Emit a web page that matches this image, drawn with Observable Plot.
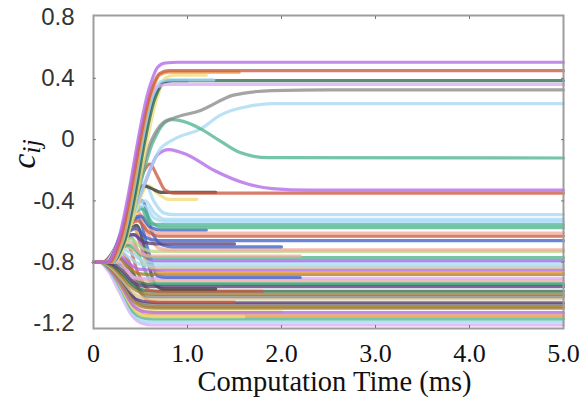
<!DOCTYPE html>
<html>
<head>
<meta charset="utf-8">
<script src="https://cdn.jsdelivr.net/npm/d3@7"></script>
<script src="https://cdn.jsdelivr.net/npm/@observablehq/plot@0.6"></script>
<style>
  html, body { margin: 0; padding: 0; background: #fff; }
  #chart { width: 583px; height: 401px; }
</style>
</head>
<body>
<div id="chart"></div>
<script>
// ---- data ----
const xTicks = [0, 1, 2, 3, 4, 5];
const xTickLabels = ["0", "1.0", "2.0", "3.0", "4.0", "5.0"];
const yTicks = [-1.2, -0.8, -0.4, 0, 0.4, 0.8];
const yTickLabels = ["-1.2", "-0.8", "-0.4", "0", "0.4", "0.8"];
const xTitle = "Computation Time (ms)";

const palette = [
  "#b469e6", // 0 purple
  "#dcaaf5", // 1 lavender
  "#eb9a3c", // 2 orange
  "#cc5a40", // 3 red
  "#f0dc78", // 4 yellow
  "#3f63c6", // 5 blue
  "#a6d8f2", // 6 light blue
  "#4fb58f", // 7 teal
  "#8a8a8a", // 8 gray
  "#333333", // 9 black
  "#a07c2e", // 10 olive brown
  "#f2ab9a", // 11 salmon
  "#b5d98a", // 12 light green
  "#5a3f7a", // 13 dark purple
  "#d8c890", // 14 khaki
  "#2f6e4e"  // 15 dark green
];

// lower group (settle between -0.48 and -1.21)
const lowerPaths = [
  [[0,-0.8],[0.06,-0.8],[0.16,-0.86],[0.28,-1.0],[0.4,-1.14],[0.52,-1.2],[0.62,-1.21],[5,-1.21]],
  [[0,-0.8],[0.07,-0.8],[0.17,-0.855],[0.29,-0.99],[0.41,-1.13],[0.53,-1.185],[0.63,-1.19],[5,-1.19]],
  [[0,-0.8],[0.07,-0.8],[0.17,-0.85],[0.3,-0.98],[0.42,-1.12],[0.54,-1.165],[0.64,-1.17],[5,-1.17]],
  [[0,-0.8],[0.08,-0.8],[0.18,-0.85],[0.3,-0.97],[0.42,-1.1],[0.54,-1.145],[0.64,-1.15],[5,-1.15]],
  [[0,-0.8],[0.08,-0.8],[0.18,-0.845],[0.3,-0.97],[0.42,-1.1],[0.54,-1.15],[0.64,-1.155],[1.6,-1.155]],
  [[0,-0.8],[0.09,-0.8],[0.19,-0.84],[0.31,-0.95],[0.44,-1.08],[0.56,-1.12],[0.66,-1.125],[2.0,-1.125]],
  [[0,-0.8],[0.08,-0.8],[0.18,-0.85],[0.3,-0.96],[0.42,-1.08],[0.55,-1.125],[0.66,-1.13],[5,-1.13]],
  [[0,-0.8],[0.08,-0.8],[0.18,-0.84],[0.3,-0.94],[0.42,-1.05],[0.55,-1.095],[0.66,-1.1],[5,-1.1]],
  [[0,-0.8],[0.1,-0.8],[0.2,-0.82],[0.32,-0.92],[0.45,-1.05],[0.58,-1.085],[0.68,-1.09],[5,-1.09]],
  [[0,-0.8],[0.09,-0.8],[0.18,-0.83],[0.3,-0.92],[0.42,-1.03],[0.55,-1.07],[0.66,-1.075],[5,-1.075]],
  [[0,-0.8],[0.1,-0.8],[0.2,-0.83],[0.32,-0.93],[0.45,-1.04],[0.58,-1.06],[0.68,-1.065],[5,-1.065]],
  [[0,-0.8],[0.1,-0.8],[0.2,-0.78],[0.3,-0.74],[0.38,-0.8],[0.5,-1.0],[0.62,-1.055],[0.72,-1.06],[1.5,-1.06]],
  [[0,-0.8],[0.08,-0.8],[0.2,-0.84],[0.3,-0.91],[0.42,-1.0],[0.55,-1.035],[0.66,-1.04],[5,-1.04]],
  [[0,-0.8],[0.1,-0.8],[0.2,-0.8],[0.3,-0.82],[0.42,-0.92],[0.55,-1.02],[0.65,-1.025],[5,-1.025]],
  [[0,-0.8],[0.1,-0.8],[0.2,-0.83],[0.3,-0.89],[0.42,-0.97],[0.55,-1.005],[0.66,-1.01],[5,-1.01]],
  [[0,-0.8],[0.1,-0.8],[0.2,-0.82],[0.3,-0.87],[0.42,-0.95],[0.55,-0.985],[0.66,-0.99],[5,-0.99]],
  [[0,-0.8],[0.1,-0.8],[0.2,-0.77],[0.3,-0.7],[0.36,-0.69],[0.48,-0.88],[0.6,-0.985],[0.7,-0.99],[1.8,-0.99]],
  [[0,-0.8],[0.12,-0.8],[0.25,-0.72],[0.4,-0.58],[0.46,-0.56],[0.56,-0.75],[0.66,-0.95],[0.76,-0.975],[1.3,-0.975]],
  [[0,-0.8],[0.1,-0.8],[0.2,-0.81],[0.3,-0.85],[0.42,-0.93],[0.55,-0.958],[0.65,-0.96],[5,-0.96]],
  [[0,-0.8],[0.1,-0.8],[0.22,-0.79],[0.3,-0.78],[0.4,-0.86],[0.52,-0.94],[0.62,-0.945],[5,-0.945]],
  [[0,-0.8],[0.1,-0.8],[0.22,-0.76],[0.34,-0.66],[0.4,-0.64],[0.5,-0.78],[0.62,-0.93],[0.72,-0.94],[5,-0.94]],
  [[0,-0.8],[0.1,-0.8],[0.2,-0.8],[0.27,-0.79],[0.36,-0.86],[0.5,-0.915],[0.6,-0.92],[5,-0.92]],
  [[0,-0.8],[0.1,-0.8],[0.2,-0.8],[0.3,-0.8],[0.42,-0.9],[0.54,-0.905],[5,-0.905]],
  [[0,-0.8],[0.12,-0.8],[0.26,-0.7],[0.42,-0.53],[0.48,-0.51],[0.58,-0.72],[0.68,-0.89],[0.78,-0.9],[2.2,-0.9]],
  [[0,-0.8],[0.1,-0.8],[0.2,-0.79],[0.27,-0.77],[0.36,-0.83],[0.48,-0.875],[0.58,-0.88],[5,-0.88]],
  [[0,-0.8],[0.1,-0.8],[0.24,-0.73],[0.36,-0.6],[0.43,-0.58],[0.55,-0.78],[0.67,-0.86],[0.77,-0.87],[5,-0.87]],
  [[0,-0.8],[0.1,-0.8],[0.2,-0.78],[0.28,-0.76],[0.36,-0.8],[0.48,-0.845],[0.58,-0.85],[5,-0.85]],
  [[0,-0.8],[0.1,-0.8],[0.22,-0.76],[0.33,-0.7],[0.4,-0.71],[0.52,-0.8],[0.62,-0.835],[5,-0.835]],
  [[0,-0.8],[0.12,-0.8],[0.22,-0.77],[0.3,-0.74],[0.38,-0.77],[0.5,-0.815],[0.6,-0.82],[5,-0.82]],
  [[0,-0.8],[0.12,-0.8],[0.24,-0.76],[0.32,-0.72],[0.4,-0.74],[0.52,-0.79],[0.62,-0.8],[5,-0.8]],
  [[0,-0.8],[0.12,-0.8],[0.26,-0.72],[0.38,-0.62],[0.45,-0.62],[0.55,-0.76],[0.66,-0.79],[5,-0.79]],
  [[0,-0.8],[0.1,-0.8],[0.22,-0.76],[0.32,-0.7],[0.38,-0.69],[0.5,-0.75],[0.62,-0.77],[5,-0.77]],
  [[0,-0.8],[0.1,-0.8],[0.22,-0.75],[0.32,-0.68],[0.39,-0.67],[0.5,-0.74],[0.62,-0.76],[2.2,-0.76]],
  [[0,-0.8],[0.1,-0.8],[0.22,-0.74],[0.33,-0.66],[0.4,-0.65],[0.52,-0.71],[0.64,-0.73],[5,-0.73]],
  [[0,-0.8],[0.1,-0.8],[0.25,-0.7],[0.4,-0.5],[0.47,-0.47],[0.58,-0.62],[0.7,-0.71],[0.8,-0.72],[5,-0.72]],
  [[0,-0.8],[0.12,-0.8],[0.3,-0.62],[0.46,-0.42],[0.52,-0.4],[0.62,-0.6],[0.74,-0.69],[0.84,-0.7],[2.0,-0.7]],
  [[0,-0.8],[0.1,-0.8],[0.24,-0.72],[0.36,-0.63],[0.42,-0.62],[0.54,-0.67],[0.66,-0.68],[1.5,-0.68]],
  [[0,-0.8],[0.1,-0.8],[0.25,-0.7],[0.38,-0.6],[0.45,-0.58],[0.56,-0.64],[0.68,-0.66],[5,-0.66]],
  [[0,-0.8],[0.1,-0.8],[0.26,-0.68],[0.4,-0.55],[0.47,-0.53],[0.58,-0.6],[0.7,-0.63],[5,-0.63]],
  [[0,-0.8],[0.12,-0.8],[0.28,-0.66],[0.44,-0.5],[0.5,-0.49],[0.6,-0.58],[0.72,-0.61],[5,-0.61]],
  [[0,-0.8],[0.12,-0.8],[0.27,-0.67],[0.42,-0.52],[0.5,-0.5],[0.6,-0.57],[0.72,-0.59],[1.2,-0.59]],
  [[0,-0.8],[0.12,-0.8],[0.28,-0.65],[0.45,-0.47],[0.52,-0.45],[0.62,-0.54],[0.74,-0.575],[5,-0.575]],
  [[0,-0.8],[0.12,-0.8],[0.28,-0.66],[0.44,-0.46],[0.5,-0.44],[0.6,-0.55],[0.72,-0.555],[5,-0.555]],
  [[0,-0.8],[0.12,-0.8],[0.3,-0.63],[0.47,-0.45],[0.54,-0.43],[0.64,-0.51],[0.76,-0.535],[5,-0.535]],
  [[0,-0.8],[0.13,-0.8],[0.3,-0.62],[0.48,-0.42],[0.55,-0.4],[0.65,-0.48],[0.76,-0.52],[5,-0.52]],
  [[0,-0.8],[0.14,-0.8],[0.3,-0.6],[0.5,-0.33],[0.56,-0.3],[0.64,-0.4],[0.75,-0.48],[0.85,-0.49],[5,-0.49]]
];
const lowerColors = [1, 6, 7, 2, 4, 4, 0, 10, 10, 8, 13, 3, 14, 8, 10, 15, 3, 9, 13, 15, 7, 11, 1, 5, 10, 2, 0, 14, 6, 6, 0, 7, 11, 12, 11, 5, 13, 5, 3, 11, 5, 7, 7, 6, 6, 6];

// upper group (settle above -0.4)
const upperPaths = [
  [[0,-0.8],[0.2,-0.8],[0.4,-0.55],[0.58,-0.3],[0.68,-0.35],[0.8,-0.39],[1.1,-0.39]],
  [[0,-0.8],[0.15,-0.8],[0.3,-0.6],[0.45,-0.38],[0.53,-0.3],[0.62,-0.32],[0.72,-0.345],[1.3,-0.345]],
  [[0,-0.8],[0.15,-0.8],[0.3,-0.6],[0.5,-0.25],[0.6,-0.16],[0.68,-0.24],[0.76,-0.33],[0.85,-0.35],[5,-0.35]],
  [[0,-0.8],[0.18,-0.8],[0.3,-0.66],[0.55,-0.28],[0.68,-0.1],[0.8,-0.065],[1.0,-0.1],[1.28,-0.2],[1.64,-0.29],[1.9,-0.32],[2.3,-0.33],[5,-0.33]],
  [[0,-0.8],[0.2,-0.8],[0.34,-0.62],[0.6,-0.2],[0.7,-0.07],[0.85,0.0],[1.14,0.07],[1.35,0.16],[1.67,0.22],[1.9,0.235],[5,0.235]],
  [[0,-0.8],[0.2,-0.8],[0.33,-0.66],[0.63,-0.02],[0.74,0.1],[0.84,0.13],[1.0,0.11],[1.14,0.07],[1.35,-0.01],[1.56,-0.085],[1.85,-0.118],[5,-0.12]],
  [[0,-0.8],[0.2,-0.8],[0.32,-0.66],[0.62,0.0],[0.74,0.11],[0.85,0.14],[1.14,0.19],[1.49,0.29],[1.9,0.32],[2.5,0.325],[5,0.325]],
  [[0,-0.8],[0.22,-0.8],[0.35,-0.65],[0.68,0.28],[0.76,0.4],[0.86,0.42],[1.2,0.42]],
  [[0,-0.8],[0.2,-0.8],[0.31,-0.68],[0.65,0.29],[0.73,0.37],[0.83,0.385],[1.0,0.385]],
  [[0,-0.8],[0.2,-0.8],[0.32,-0.68],[0.66,0.28],[0.74,0.37],[0.84,0.385],[5,0.385]],
  [[0,-0.8],[0.2,-0.8],[0.3,-0.68],[0.64,0.3],[0.72,0.38],[0.82,0.39],[1.28,0.39]],
  [[0,-0.8],[0.16,-0.8],[0.26,-0.68],[0.62,0.3],[0.7,0.35],[0.8,0.36],[5,0.36]],
  [[0,-0.8],[0.18,-0.8],[0.28,-0.7],[0.63,0.33],[0.7,0.42],[0.8,0.44],[1.55,0.44]],
  [[0,-0.8],[0.17,-0.8],[0.27,-0.68],[0.62,0.33],[0.7,0.43],[0.8,0.45],[5,0.45]],
  [[0,-0.8],[0.15,-0.8],[0.25,-0.68],[0.6,0.35],[0.68,0.47],[0.76,0.5],[0.9,0.505],[5,0.505]]
];
const upperColors = [4, 9, 3, 0, 6, 7, 8, 4, 5, 15, 6, 1, 2, 3, 0];

// ---- build table for the library ----
const allPaths = lowerPaths.concat(upperPaths);
const allColors = lowerColors.concat(upperColors);
const rows = allPaths.flatMap((p, i) =>
  p.map(([t, v]) => ({id: i, t, v, c: palette[allColors[i % allColors.length]]}))
);

const serif = "'Liberation Serif', 'Times New Roman', serif";
const sans = "'Liberation Sans', Arial, sans-serif";

const chart = Plot.plot({
  width: 583,
  height: 401,
  marginLeft: 93,
  marginRight: 20,
  marginTop: 15,
  marginBottom: 73,
  style: {background: "#fff", overflow: "visible"},
  x: {domain: [0, 5]},
  y: {domain: [-1.233, 0.81]},
  color: {type: "identity"},
  marks: [
    Plot.line(rows, {
      x: "t", y: "v", z: "id", stroke: "c",
      strokeWidth: 3.2, strokeOpacity: 0.78, curve: "monotone-x"
    }),
    Plot.frame({stroke: "#9d9d9d", strokeWidth: 2}),
    Plot.axisX(xTicks, {anchor: "bottom", tickSize: 0, tickPadding: 15,
      tickFormat: (d, i) => xTickLabels[i], label: null,
      fontSize: 26, fontFamily: serif, color: "#111"}),
    Plot.axisX([1, 2, 3, 4], {anchor: "bottom", tickSize: -3, tickFormat: () => "", label: null, color: "#777"}),
    Plot.axisX([1, 2, 3, 4], {anchor: "top", tickSize: -3, tickFormat: () => "", label: null, color: "#777"}),
    Plot.axisY(yTicks, {anchor: "left", tickSize: 0, tickPadding: 19,
      tickFormat: (d, i) => yTickLabels[i], label: null,
      fontSize: 24, fontFamily: sans, color: "#333"}),
    Plot.axisY([-0.8, -0.4, 0, 0.4], {anchor: "left", tickSize: -3, tickFormat: () => "", label: null, color: "#777"}),
    Plot.axisY([-0.8, -0.4, 0, 0.4], {anchor: "right", tickSize: -3, tickFormat: () => "", label: null, color: "#777"}),
    Plot.text([xTitle], {frameAnchor: "bottom", dx: 6, dy: 62,
      fontSize: 28.5, fontFamily: serif, fill: "#111"}),
    Plot.text(["cij"], {frameAnchor: "left", dx: -59, dy: -18, rotate: -90,
      lineAnchor: "bottom", textAnchor: "middle",
      fontSize: 34, fontFamily: serif, fontStyle: "italic", fill: "#111",
      className: "ytitle"})
  ]
});

document.getElementById("chart").appendChild(chart);

// subscript for the y title
const yt = chart.querySelector(".ytitle text") || chart.querySelector("g.ytitle text");
if (yt) {
  yt.textContent = "";
  const ns = "http://www.w3.org/2000/svg";
  const t1 = document.createElementNS(ns, "tspan");
  t1.textContent = "c";
  const t2 = document.createElementNS(ns, "tspan");
  t2.textContent = "ij";
  t2.setAttribute("font-size", "26");
  t2.setAttribute("dy", "0.2em");
  yt.appendChild(t1);
  yt.appendChild(t2);
}
</script>
</body>
</html>
